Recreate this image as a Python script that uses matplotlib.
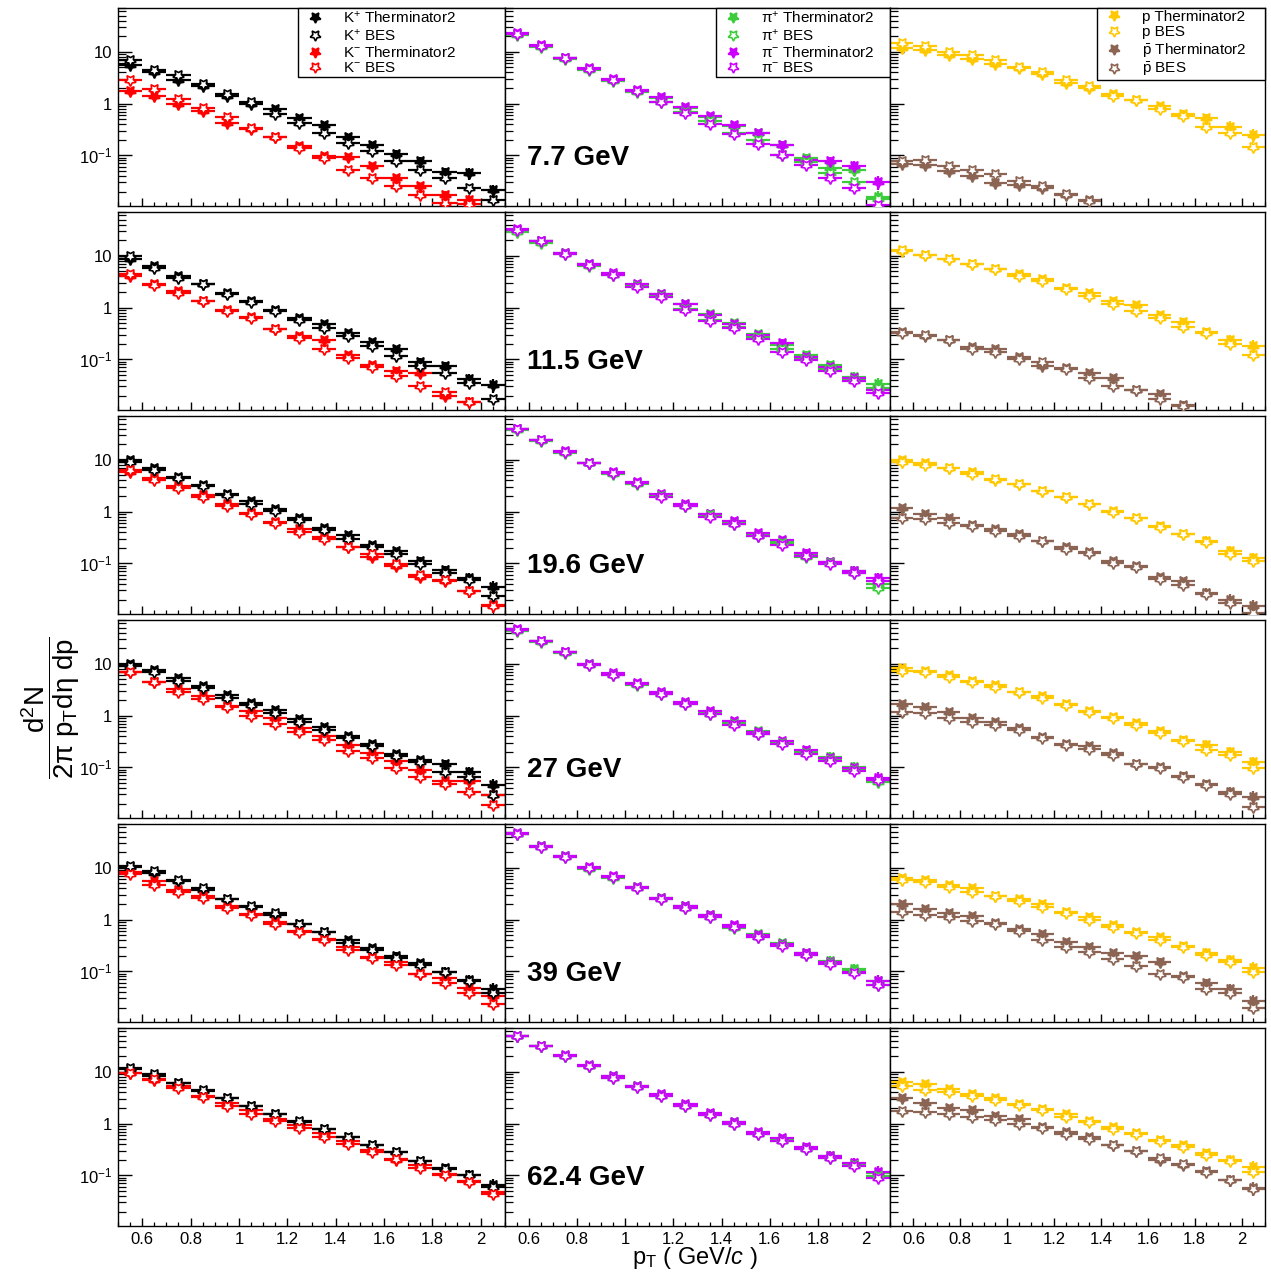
import matplotlib
matplotlib.use("Agg")
import matplotlib.pyplot as plt
from matplotlib.lines import Line2D
from matplotlib.ticker import FixedLocator, FixedFormatter, LogLocator, NullFormatter, MultipleLocator
import numpy as np

plt.rcParams['font.family'] = ['Liberation Sans', 'DejaVu Sans']
plt.rcParams['mathtext.fontset'] = 'custom'
plt.rcParams['mathtext.rm'] = 'Liberation Sans'
plt.rcParams['mathtext.it'] = 'Liberation Sans:italic'
plt.rcParams['mathtext.bf'] = 'Liberation Sans:bold'

# pT bin centres (GeV/c), bin width 0.1
pt = [0.55, 0.65, 0.75, 0.85, 0.95, 1.05, 1.15, 1.25,
      1.35, 1.45, 1.55, 1.65, 1.75, 1.85, 1.95, 2.05]
energies = ['7.7 GeV', '11.5 GeV', '19.6 GeV', '27 GeV', '39 GeV', '62.4 GeV']

# relative uncertainties per bin
th_err = [0.04, 0.04, 0.05, 0.05, 0.06, 0.07, 0.08, 0.09, 0.10, 0.12, 0.14, 0.16, 0.18, 0.21, 0.25, 0.30]
bes_err = [0.05, 0.05, 0.05, 0.05, 0.06, 0.06, 0.07, 0.07, 0.08, 0.08, 0.09, 0.10, 0.11, 0.12, 0.13, 0.15]

# kaons, one row per energy
kp_th = [
    [5.5, 4.1, 2.8, 2.15, 1.42, 1.0, 0.78, 0.52, 0.39, 0.225, 0.158, 0.107, 0.077, 0.047, 0.045, 0.021],
    [8.5, 6.3, 4.1, 2.9, 1.88, 1.33, 0.91, 0.64, 0.49, 0.32, 0.22, 0.155, 0.089, 0.074, 0.042, 0.032],
    [9.8, 6.8, 4.7, 3.2, 2.2, 1.58, 1.1, 0.76, 0.49, 0.35, 0.23, 0.17, 0.11, 0.074, 0.051, 0.035],
    [9.8, 7.6, 5.2, 3.7, 2.5, 1.78, 1.27, 0.86, 0.61, 0.41, 0.28, 0.18, 0.137, 0.115, 0.08, 0.045],
    [10.2, 7.9, 5.5, 3.8, 2.45, 1.78, 1.22, 0.82, 0.57, 0.40, 0.28, 0.20, 0.143, 0.098, 0.069, 0.045],
    [11.1, 8.3, 6.0, 4.2, 3.1, 2.2, 1.5, 1.07, 0.80, 0.56, 0.38, 0.28, 0.185, 0.138, 0.10, 0.066],
]
kp_bes = [
    [6.9, 4.4, 3.5, 2.4, 1.5, 1.05, 0.62, 0.43, 0.27, 0.175, 0.12, 0.079, 0.053, 0.037, 0.023, 0.0135],
    [9.8, 5.9, 3.8, 2.8, 1.83, 1.26, 0.85, 0.57, 0.40, 0.28, 0.18, 0.115, 0.074, 0.055, 0.035, 0.017],
    [9.1, 6.3, 4.4, 3.05, 2.05, 1.37, 1.02, 0.68, 0.44, 0.30, 0.206, 0.154, 0.099, 0.066, 0.047, 0.023],
    [9.1, 6.8, 4.7, 3.37, 2.2, 1.58, 1.1, 0.74, 0.53, 0.37, 0.26, 0.164, 0.124, 0.083, 0.064, 0.029],
    [10.8, 8.5, 5.7, 4.08, 2.45, 1.83, 1.33, 0.82, 0.57, 0.36, 0.26, 0.18, 0.133, 0.095, 0.064, 0.038],
    [11.6, 9.0, 6.2, 4.35, 3.1, 2.15, 1.55, 1.12, 0.78, 0.54, 0.38, 0.28, 0.19, 0.134, 0.10, 0.06],
]
km_th = [
    [1.78, 1.42, 1.0, 0.72, 0.43, 0.32, 0.225, 0.15, 0.096, 0.091, 0.061, 0.036, 0.025, 0.017, 0.0135, 0.006],
    [4.1, 2.8, 2.05, 1.36, 0.88, 0.66, 0.38, 0.28, 0.24, 0.123, 0.076, 0.060, 0.055, 0.020, 0.015, 0.006],
    [5.9, 4.4, 3.05, 2.05, 1.37, 0.95, 0.64, 0.46, 0.32, 0.206, 0.133, 0.088, 0.055, 0.045, 0.029, 0.016],
    [6.8, 4.5, 3.2, 2.4, 1.54, 1.22, 0.88, 0.57, 0.40, 0.275, 0.19, 0.133, 0.088, 0.055, 0.054, 0.029],
    [8.1, 5.5, 3.7, 2.84, 1.83, 1.27, 0.88, 0.61, 0.43, 0.30, 0.19, 0.154, 0.088, 0.074, 0.048, 0.033],
    [9.3, 6.9, 5.2, 3.45, 2.5, 1.8, 1.24, 0.92, 0.65, 0.46, 0.31, 0.20, 0.155, 0.107, 0.077, 0.048],
]
km_bes = [
    [2.8, 1.9, 1.22, 0.82, 0.54, 0.34, 0.225, 0.14, 0.089, 0.053, 0.036, 0.025, 0.017, 0.012, 0.0115, 0.006],
    [4.4, 2.75, 1.95, 1.32, 0.85, 0.62, 0.38, 0.26, 0.16, 0.107, 0.072, 0.048, 0.031, 0.023, 0.015, 0.006],
    [6.3, 4.08, 2.84, 1.88, 1.27, 0.91, 0.61, 0.41, 0.30, 0.21, 0.154, 0.095, 0.060, 0.048, 0.029, 0.015],
    [7.0, 4.4, 2.9, 2.05, 1.47, 1.0, 0.68, 0.48, 0.33, 0.21, 0.154, 0.099, 0.066, 0.048, 0.033, 0.019],
    [7.6, 4.7, 3.37, 2.6, 1.7, 1.22, 0.82, 0.57, 0.40, 0.26, 0.18, 0.13, 0.088, 0.06, 0.038, 0.023],
    [9.6, 7.1, 4.8, 3.25, 2.22, 1.55, 1.12, 0.83, 0.54, 0.40, 0.28, 0.21, 0.138, 0.10, 0.073, 0.043],
]

# pions
pip_th = [
    [22, 13, 7.6, 4.6, 2.85, 1.75, 1.30, 0.82, 0.56, 0.37, 0.27, 0.16, 0.089, 0.056, 0.052, 0.016],
    [31, 19, 11.3, 6.8, 4.5, 2.75, 1.80, 1.15, 0.74, 0.50, 0.31, 0.19, 0.12, 0.076, 0.045, 0.034],
    [39, 24, 14, 8.6, 5.5, 3.6, 2.1, 1.35, 0.90, 0.62, 0.36, 0.27, 0.15, 0.105, 0.070, 0.040],
    [44, 27, 16.5, 9.8, 6.4, 4.0, 2.7, 1.72, 1.15, 0.74, 0.50, 0.30, 0.21, 0.16, 0.10, 0.058],
    [45, 26, 16.5, 10, 6.7, 4.2, 2.6, 1.8, 1.2, 0.74, 0.52, 0.35, 0.23, 0.16, 0.11, 0.065],
    [49, 31.5, 20.5, 13, 8.2, 5.2, 3.5, 2.25, 1.55, 1.05, 0.66, 0.50, 0.34, 0.235, 0.165, 0.112],
]
pip_bes = [
    [21, 12.5, 7.4, 4.4, 2.75, 1.70, 1.08, 0.70, 0.47, 0.27, 0.20, 0.10, 0.075, 0.045, 0.031, 0.0145],
    [29, 18, 11.0, 6.4, 4.2, 2.6, 1.65, 0.95, 0.58, 0.42, 0.27, 0.16, 0.10, 0.064, 0.040, 0.028],
    [38, 23.5, 13.5, 8.5, 5.4, 3.4, 2.0, 1.30, 0.85, 0.58, 0.33, 0.25, 0.13, 0.10, 0.066, 0.034],
    [43, 26, 16, 9.5, 6.2, 3.9, 2.6, 1.65, 1.05, 0.70, 0.44, 0.29, 0.19, 0.14, 0.090, 0.053],
    [44, 25, 16, 9.6, 6.4, 4.0, 2.45, 1.65, 1.10, 0.70, 0.47, 0.32, 0.21, 0.145, 0.10, 0.055],
    [48, 31, 20, 12.8, 7.6, 5.0, 3.4, 2.15, 1.45, 1.0, 0.64, 0.46, 0.32, 0.22, 0.155, 0.095],
]
pim_th = [
    [23, 13.5, 7.7, 4.8, 2.95, 1.80, 1.33, 0.84, 0.58, 0.38, 0.27, 0.16, 0.080, 0.076, 0.062, 0.031],
    [33, 19.5, 11.5, 6.9, 4.6, 2.85, 1.85, 1.18, 0.71, 0.49, 0.29, 0.21, 0.11, 0.070, 0.043, 0.025],
    [40, 24.5, 14.5, 8.8, 5.7, 3.8, 2.2, 1.37, 0.91, 0.66, 0.38, 0.28, 0.16, 0.107, 0.072, 0.051],
    [46, 27.5, 17, 10, 6.6, 4.25, 2.85, 1.8, 1.2, 0.77, 0.48, 0.32, 0.22, 0.15, 0.095, 0.062],
    [46, 26.5, 17, 10.3, 6.9, 4.3, 2.65, 1.85, 1.24, 0.77, 0.50, 0.34, 0.23, 0.15, 0.098, 0.066],
    [50, 32, 21, 13.5, 8.4, 5.4, 3.65, 2.35, 1.58, 1.08, 0.70, 0.52, 0.35, 0.24, 0.17, 0.118],
]
pim_bes = [
    [22.5, 13, 7.5, 4.6, 2.85, 1.72, 1.06, 0.67, 0.40, 0.26, 0.165, 0.10, 0.066, 0.037, 0.023, 0.011],
    [32, 19, 11.0, 6.5, 4.2, 2.5, 1.60, 0.88, 0.55, 0.40, 0.25, 0.14, 0.095, 0.060, 0.038, 0.022],
    [39, 24, 14, 8.5, 5.5, 3.5, 1.95, 1.30, 0.80, 0.58, 0.34, 0.23, 0.14, 0.098, 0.066, 0.045],
    [45, 27, 16.5, 9.6, 6.2, 4.0, 2.55, 1.65, 1.05, 0.66, 0.44, 0.28, 0.18, 0.13, 0.085, 0.057],
    [45, 25.5, 16.4, 9.9, 6.5, 4.1, 2.5, 1.7, 1.12, 0.72, 0.46, 0.31, 0.21, 0.14, 0.092, 0.055],
    [49, 31, 20.3, 13, 7.5, 5.0, 3.4, 2.15, 1.45, 1.0, 0.64, 0.46, 0.32, 0.22, 0.15, 0.089],
]

# protons and antiprotons
p_th = [
    [11.6, 10.8, 8.6, 7.4, 5.9, 4.8, 3.65, 2.5, 2.0, 1.55, 1.16, 0.89, 0.64, 0.53, 0.36, 0.25],
    [12.2, 10.5, 8.8, 7.0, 5.5, 4.4, 3.5, 2.4, 1.88, 1.33, 1.1, 0.71, 0.53, 0.34, 0.24, 0.18],
    [9.8, 8.5, 6.8, 5.7, 4.1, 3.37, 2.45, 1.88, 1.37, 1.02, 0.76, 0.53, 0.37, 0.275, 0.173, 0.124],
    [8.1, 7.3, 6.05, 4.7, 3.9, 2.9, 2.4, 1.7, 1.22, 0.95, 0.71, 0.50, 0.34, 0.275, 0.20, 0.124],
    [6.3, 5.7, 4.7, 4.08, 2.9, 2.45, 1.97, 1.37, 1.1, 0.78, 0.57, 0.46, 0.31, 0.23, 0.164, 0.118],
    [6.45, 5.8, 4.6, 3.75, 3.1, 2.4, 1.92, 1.5, 1.12, 0.87, 0.65, 0.485, 0.38, 0.27, 0.20, 0.144],
]
p_bes = [
    [14.5, 12.9, 10, 8.7, 6.9, 5.1, 4.1, 2.8, 2.15, 1.42, 1.18, 0.78, 0.58, 0.36, 0.27, 0.145],
    [13.1, 10.5, 8.5, 6.8, 5.5, 4.1, 3.2, 2.3, 1.7, 1.18, 0.85, 0.62, 0.43, 0.32, 0.20, 0.123],
    [9.1, 7.9, 6.8, 5.2, 4.25, 3.37, 2.5, 1.88, 1.37, 1.0, 0.76, 0.50, 0.37, 0.26, 0.154, 0.11],
    [7.3, 6.8, 5.5, 4.4, 3.5, 2.84, 2.2, 1.58, 1.18, 0.91, 0.66, 0.46, 0.32, 0.22, 0.173, 0.098],
    [5.7, 5.2, 4.25, 3.37, 2.84, 2.3, 1.78, 1.33, 1.0, 0.71, 0.56, 0.41, 0.30, 0.206, 0.154, 0.098],
    [5.2, 4.5, 4.0, 3.45, 2.9, 2.3, 1.8, 1.35, 1.07, 0.80, 0.62, 0.46, 0.36, 0.25, 0.19, 0.116],
]
pbar_th = [
    [0.068, 0.064, 0.050, 0.039, 0.029, 0.027, 0.023, 0.017, 0.014, 0.006, 0.006, 0.006, 0.006, 0.006, 0.006, 0.006],
    [0.34, 0.28, 0.24, 0.17, 0.155, 0.112, 0.074, 0.069, 0.055, 0.044, 0.025, 0.0215, 0.013, 0.006, 0.006, 0.006],
    [1.15, 0.91, 0.76, 0.56, 0.46, 0.37, 0.275, 0.21, 0.164, 0.11, 0.088, 0.054, 0.045, 0.027, 0.02, 0.015],
    [1.7, 1.47, 1.18, 0.91, 0.76, 0.57, 0.38, 0.28, 0.26, 0.19, 0.118, 0.10, 0.069, 0.048, 0.033, 0.027],
    [1.97, 1.63, 1.33, 1.15, 0.86, 0.66, 0.53, 0.37, 0.30, 0.23, 0.20, 0.154, 0.08, 0.06, 0.045, 0.027],
    [3.1, 2.5, 2.0, 1.86, 1.39, 1.2, 0.87, 0.69, 0.54, 0.38, 0.29, 0.20, 0.16, 0.12, 0.080, 0.056],
]
pbar_bes = [
    [0.079, 0.082, 0.061, 0.053, 0.044, 0.032, 0.025, 0.018, 0.013, 0.006, 0.006, 0.006, 0.006, 0.006, 0.006, 0.006],
    [0.32, 0.29, 0.24, 0.16, 0.138, 0.102, 0.089, 0.065, 0.044, 0.031, 0.025, 0.017, 0.0126, 0.006, 0.006, 0.006],
    [0.76, 0.71, 0.61, 0.53, 0.43, 0.34, 0.275, 0.19, 0.16, 0.10, 0.085, 0.049, 0.038, 0.025, 0.017, 0.011],
    [1.18, 1.1, 0.91, 0.76, 0.66, 0.53, 0.37, 0.275, 0.23, 0.173, 0.115, 0.098, 0.064, 0.045, 0.031, 0.017],
    [1.37, 1.22, 1.1, 0.95, 0.82, 0.61, 0.40, 0.30, 0.24, 0.173, 0.124, 0.088, 0.076, 0.045, 0.038, 0.02],
    [1.73, 1.66, 1.5, 1.35, 1.17, 1.0, 0.83, 0.62, 0.51, 0.38, 0.30, 0.22, 0.167, 0.116, 0.080, 0.054],
]

# (values, colour, filled?, legend label) for each column
columns = [
    [(kp_th, 'black', True, 'K$^{+}$ Therminator2'),
     (kp_bes, 'black', False, 'K$^{+}$ BES'),
     (km_th, '#ff0000', True, 'K$^{-}$ Therminator2'),
     (km_bes, '#ff0000', False, 'K$^{-}$ BES')],
    [(pip_th, '#3ccc3c', True, 'π$^{+}$ Therminator2'),
     (pip_bes, '#3ccc3c', False, 'π$^{+}$ BES'),
     (pim_th, '#cc00ff', True, 'π$^{-}$ Therminator2'),
     (pim_bes, '#cc00ff', False, 'π$^{-}$ BES')],
    [(p_th, '#ffc800', True, 'p Therminator2'),
     (p_bes, '#ffc800', False, 'p BES'),
     (pbar_th, '#8b6453', True, r'$\bar{\mathrm{p}}$ Therminator2'),
     (pbar_bes, '#8b6453', False, r'$\bar{\mathrm{p}}$ BES')],
]

W, H = 1271, 1281
fig = plt.figure(figsize=(W / 100, H / 100), dpi=100)

col_edges = [(118, 505), (505, 890), (890, 1265)]
row_tops = [8, 212, 416, 620, 824, 1028]
panel_h = 198
legend_boxes = [(0.466, 0.534), (0.548, 0.452), (0.552, 0.448)]

star = (5, 1, 180)
pt_arr = np.array(pt)

for r, top in enumerate(row_tops):
    for c, (x0, x1) in enumerate(col_edges):
        ax = fig.add_axes([x0 / W, 1 - (top + panel_h) / H, (x1 - x0) / W, panel_h / H])
        ax.set_yscale('log')
        ax.set_xlim(0.5, 2.1)
        ax.set_ylim(0.0105, 70)

        for vals, color, filled, label in columns[c]:
            v = np.array(vals[r])
            rel = np.array(th_err if filled else bes_err)
            ax.errorbar(pt_arr, v, xerr=0.05, yerr=rel * v, fmt='none',
                        ecolor=color, elinewidth=1.6, capsize=0, zorder=2)
            ax.plot(pt_arr, v, linestyle='none', marker=star, markersize=8.5,
                    color=color, mfc=color if filled else 'white',
                    mec=color, mew=1.2, zorder=3 if filled else 4)

        # axis styling
        for sp in ax.spines.values():
            sp.set_linewidth(1.0)
        ax.yaxis.set_major_locator(FixedLocator([0.1, 1, 10]))
        ax.yaxis.set_minor_locator(LogLocator(base=10, subs=np.arange(2, 10)))
        ax.yaxis.set_minor_formatter(NullFormatter())
        ax.xaxis.set_major_locator(FixedLocator([0.6, 0.8, 1.0, 1.2, 1.4, 1.6, 1.8, 2.0]))
        ax.xaxis.set_minor_locator(MultipleLocator(0.05))
        ax.tick_params(axis='y', which='major', direction='in', length=10, width=1.0, pad=4, labelsize=12)
        ax.tick_params(axis='y', which='minor', direction='in', length=5.5, width=0.9)
        ax.tick_params(axis='x', which='major', direction='in', length=6, width=1.0, pad=4, labelsize=12)
        ax.tick_params(axis='x', which='minor', direction='in', length=3, width=0.9)

        if c == 0:
            ax.yaxis.set_major_formatter(FixedFormatter([r'$10^{-1}$', '1', '10']))
        else:
            ax.set_yticklabels([])
        if r == len(row_tops) - 1:
            ax.xaxis.set_major_formatter(FixedFormatter(['0.6', '0.8', '1', '1.2', '1.4', '1.6', '1.8', '2']))
        else:
            ax.set_xticklabels([])

        if c == 1:
            ax.text(0.057, 0.24, energies[r], transform=ax.transAxes, fontsize=20,
                    fontweight='bold', ha='left', va='center')

        if r == 0:
            handles = [Line2D([], [], linestyle='none', marker=star, markersize=8,
                              color=color, mfc=color if filled else 'white', mec=color, mew=1.2)
                       for _, color, filled, _ in columns[c]]
            labels = [lab for *_, lab in columns[c]]
            lx, lw = legend_boxes[c]
            leg = ax.legend(handles, labels, loc='upper left',
                            bbox_to_anchor=(lx, 0.64, lw, 0.36), mode='expand',
                            borderaxespad=0, fontsize=11, frameon=True, fancybox=False,
                            edgecolor='black', framealpha=1, handlelength=2.0,
                            handletextpad=0.8, borderpad=0.12, labelspacing=0.1)
            leg.get_frame().set_linewidth(1.0)
            leg.set_zorder(10)

fig.text(0.040, 0.447, r'$\dfrac{\mathrm{d^{2}N}}{\mathrm{2\pi\ p_{T} d\eta\ dp}}$',
         rotation=90, fontsize=20, ha='center', va='center')
fig.text(0.547, 0.018, r'p$_{\mathrm{T}}$ ( GeV/$c$ )', fontsize=17, ha='center', va='center')

fig.savefig('out.png', dpi=100)
